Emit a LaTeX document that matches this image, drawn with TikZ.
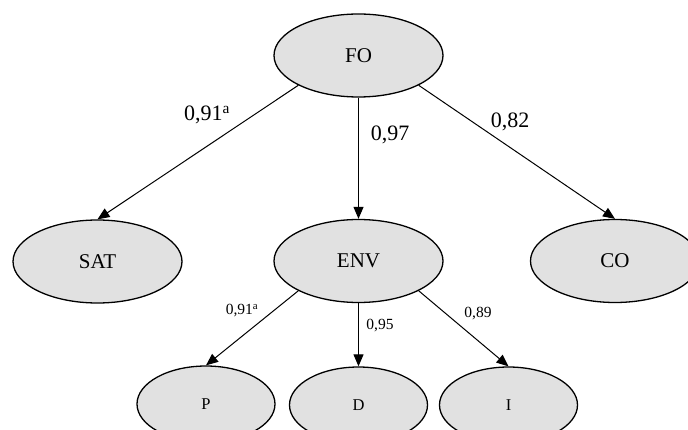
\documentclass[tikz,border=0pt]{standalone}
\usepackage{fontspec}
\setmainfont{Liberation Serif}
\usetikzlibrary{shapes.geometric,arrows.meta}
\definecolor{latfill}{RGB}{225,225,225}
\tikzset{
  latent/.style={ellipse,draw=black,line width=1.3pt,fill=latfill,
    minimum width=169pt,minimum height=83pt,inner sep=0pt,font=\fontsize{21}{21}\selectfont},
  indic/.style={latent,minimum width=138pt,minimum height=76pt,font=\fontsize{16.5}{16.5}\selectfont},
  path/.style={line width=1pt,-{Triangle[length=12pt,width=10pt]}},
  bigload/.style={font=\fontsize{22}{22}\selectfont},
  smallload/.style={font=\fontsize{15.5}{15.5}\selectfont}
}
\begin{document}
\begin{tikzpicture}[x=1pt,y=-1pt]
        \useasboundingbox (0,0) rectangle (688,430);
        \begin{scope}
        \clip (0,0) rectangle (688,430);
        \node[latent] (fo) at (358.5,55.5) {FO};
        \node[latent] (sat) at (97.5,261.5) {SAT};
        \node[latent] (env) at (358.5,261) {ENV};
        \node[latent] (co) at (615,261) {CO};
        \node[indic] (p) at (206,404) {P};
        \node[indic] (d) at (358.5,405) {D};
        \node[indic] (i) at (508.5,405) {I};
        \draw[path] (fo.south west)--(sat.north);
        \draw[path] (fo.south)--(env.north);
        \draw[path] (fo.south east)--(co.north);
        \draw[path] (env.south west)--(p.north);
        \draw[path] (env.south)--(d.north);
        \draw[path] (env.south east)--(i.north);
        \end{scope}
        \node[bigload] (lsat) at (207,115) {0,91\textsuperscript{a}};
        \node[bigload] (lenv) at (390,135) {0,97};
        \node[bigload] (lco) at (510,122) {0,82};
        \node[smallload] (lp) at (242,311) {0,91\textsuperscript{a}};
        \node[smallload] (ld) at (380,326) {0,95};
        \node[smallload] (li) at (478,314) {0,89};
    \end{tikzpicture}
\end{document}
